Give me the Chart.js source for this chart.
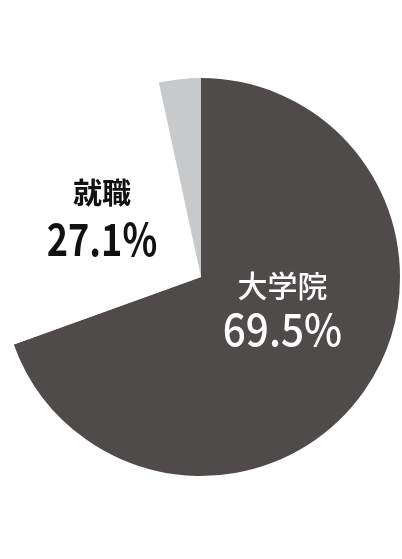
<!DOCTYPE html>
<html>
    <head>
        <title>進路</title>
        <meta charset="UTF-8">
        <style>
          html, body { margin: 0; padding: 0; background: #ffffff; }
          #wrap { position: relative; width: 402px; height: 559px; }
        </style>
    </head>
    <body>
        <div id="wrap"><canvas id="pieChart"></canvas></div>
        <script src="https://cdn.jsdelivr.net/npm/chart.js/dist/chart.umd.min.js"></script>
        <script>
          // data
          const labels = ['大学院', '就職', 'その他'];
          const shares = [69.5, 27.1, 3.4];
          const colors = ['#4f4b4a', '#ffffff', '#c8c9cb'];
          const showLabel = [true, true, false];

          // text styles and placement for each slice label (fraction of radius, pixel nudge)
          // valScale squeezes the digits, the original uses a narrower gothic
          const labelStyle = [
            { color: '#ffffff', nameFont: '500 30px "Noto Sans CJK JP"', valFont: '500 44px "Noto Sans CJK JP"', valScale: 0.92, r: 0.5, dx: 0, dy: -27, nameDy: -22, valDy: 22 },
            { color: '#111111', nameFont: '700 29px "Noto Sans CJK JP"', valFont: '700 44px "Noto Sans CJK JP"', valScale: 0.82, r: 0.5, dx: -12, dy: -13, nameDy: -23, valDy: 23 }
          ];

          // draws name + percentage in each slice
          const sliceLabels = {
            id: 'sliceLabels',
            afterDatasetsDraw(chart){
              const ctx = chart.ctx;
              const arcs = chart.getDatasetMeta(0).data;
              ctx.save();
              ctx.textAlign = 'center';
              ctx.textBaseline = 'middle';
              arcs.forEach((arc, i) => {
                if(!showLabel[i]) return;
                const st = labelStyle[i];
                const mid = (arc.startAngle + arc.endAngle) / 2;
                const x = arc.x + Math.cos(mid) * arc.outerRadius * st.r + st.dx;
                const y = arc.y + Math.sin(mid) * arc.outerRadius * st.r + st.dy;
                ctx.fillStyle = st.color;
                ctx.font = st.nameFont;
                ctx.fillText(labels[i], x, y + st.nameDy);
                ctx.save();
                ctx.translate(x, y + st.valDy);
                ctx.scale(st.valScale, 1);
                ctx.font = st.valFont;
                ctx.fillText(shares[i].toFixed(1) + '%', 0, 0);
                ctx.restore();
              });
              ctx.restore();
            }
          };

          new Chart(document.getElementById('pieChart'), {
            type: 'pie',
            data: {
              labels: labels,
              datasets: [{
                data: shares,
                backgroundColor: colors,
                borderWidth: 0,
                hoverOffset: 0
              }]
            },
            options: {
              responsive: true,
              maintainAspectRatio: false,
              animation: false,
              events: [],
              layout: { padding: { top: 78, bottom: 83, left: 2, right: 2 } },
              plugins: {
                legend: { display: false },
                tooltip: { enabled: false }
              }
            },
            plugins: [sliceLabels]
          });
        </script>
    </body>
</html>
